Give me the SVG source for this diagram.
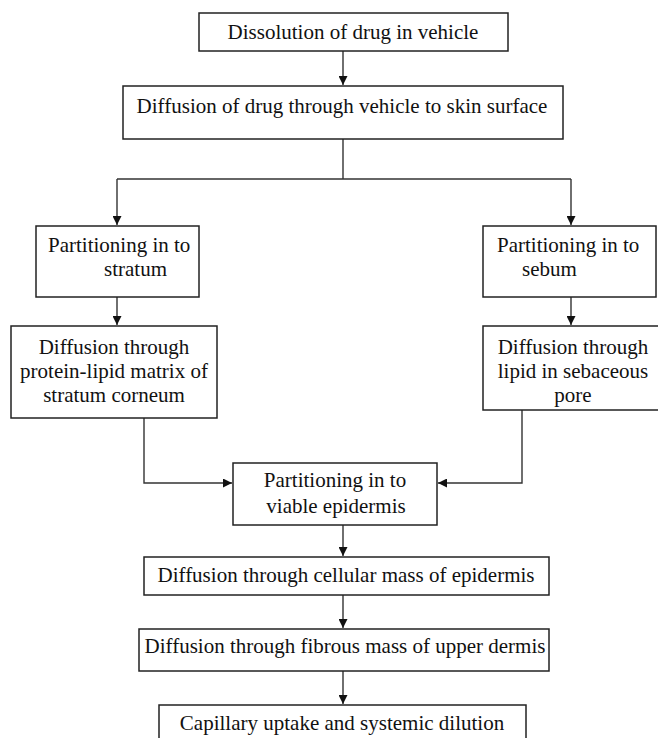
<svg xmlns="http://www.w3.org/2000/svg" width="658" height="738" viewBox="0 0 658 738">
<defs>
<marker id="ah" viewBox="0 0 10 10" refX="10" refY="5" markerWidth="9" markerHeight="9" markerUnits="userSpaceOnUse" orient="auto">
<path d="M0,0 L10,5 L0,10 Z" fill="#111"/>
</marker>
<style>
.box{fill:#fff;stroke:#222;stroke-width:1.5}
.t{font-family:"Liberation Serif","Times New Roman",serif;font-size:21px;fill:#111}
.c{text-anchor:middle}
.ln{fill:none;stroke:#333;stroke-width:1.4}
.ar{fill:none;stroke:#333;stroke-width:1.4;marker-end:url(#ah)}
</style>
</defs>
<rect width="658" height="738" fill="#fff"/>
<g id="connectors">
<path class="ar" d="M343,51 V85"/>
<path class="ln" d="M343,139 V179"/>
<path class="ln" d="M117,179 H571"/>
<path class="ar" d="M117,179 V225"/>
<path class="ar" d="M571,179 V225"/>
<path class="ar" d="M117,297 V325"/>
<path class="ar" d="M571,297 V325"/>
<path class="ar" d="M144,418 V483 H232"/>
<path class="ar" d="M522,410 V483 H438"/>
<path class="ar" d="M343,525 V556"/>
<path class="ar" d="M343,595 V628"/>
<path class="ar" d="M343,671 V704"/>
</g>
<g id="n1">
<rect class="box" x="199" y="13" width="309" height="38"/>
<text class="t c" x="353" y="39">Dissolution of drug in vehicle</text>
</g>
<g id="n2">
<rect class="box" x="123" y="86" width="440" height="53"/>
<text class="t c" x="342" y="113">Diffusion of drug through vehicle to skin surface</text>
</g>
<g id="n3">
<rect class="box" x="36" y="226" width="163" height="71"/>
<text class="t" x="48" y="252">Partitioning in to</text>
<text class="t" x="104" y="276">stratum</text>
</g>
<g id="n4">
<rect class="box" x="483" y="226" width="173" height="71"/>
<text class="t" x="497" y="252">Partitioning in to</text>
<text class="t" x="522" y="276">sebum</text>
</g>
<g id="n5">
<rect class="box" x="11" y="326" width="206" height="92"/>
<text class="t c" x="114" y="354">Diffusion through</text>
<text class="t c" x="114" y="378">protein-lipid matrix of</text>
<text class="t c" x="114" y="402">stratum corneum</text>
</g>
<g id="n6">
<rect class="box" x="483" y="326" width="178" height="84"/>
<text class="t c" x="573" y="354">Diffusion through</text>
<text class="t c" x="573" y="378">lipid in sebaceous</text>
<text class="t c" x="573" y="402">pore</text>
</g>
<g id="n7">
<rect class="box" x="233" y="463" width="204" height="62"/>
<text class="t c" x="335" y="487">Partitioning in to</text>
<text class="t c" x="336" y="513">viable epidermis</text>
</g>
<g id="n8">
<rect class="box" x="144" y="557" width="405" height="38"/>
<text class="t c" x="346" y="582">Diffusion through cellular mass of epidermis</text>
</g>
<g id="n9">
<rect class="box" x="139" y="629" width="410" height="42"/>
<text class="t c" x="345" y="653">Diffusion through fibrous mass of upper dermis</text>
</g>
<g id="n10">
<rect class="box" x="159" y="705" width="367" height="40"/>
<text class="t c" x="342" y="730">Capillary uptake and systemic dilution</text>
</g>
</svg>
